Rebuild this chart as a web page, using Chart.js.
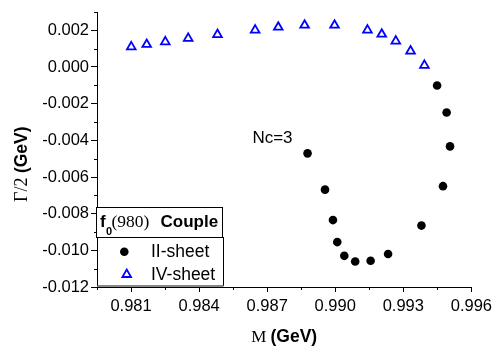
<!DOCTYPE html>
<html>
<head>
<meta charset="utf-8">
<script src="https://cdn.jsdelivr.net/npm/chart.js@4/dist/chart.umd.min.js"></script>
<style>
  html, body { margin: 0; padding: 0; background: #fff; }
  #c { display: block; background: #fff; }
</style>
</head>
<body>
<canvas id="c" width="497" height="350"></canvas>
<script>
// ---- data ----
const ivSheetM = [0.98101, 0.98169, 0.98251, 0.98352, 0.98481, 0.98647, 0.98749, 0.98865, 0.98997, 0.99142, 0.99205, 0.99267, 0.99332, 0.99393];
const ivSheetG = [0.00110, 0.00123, 0.00137, 0.00156, 0.00177, 0.00201, 0.00217, 0.00228, 0.00228, 0.00201, 0.00179, 0.00141, 0.00087, 0.00009];
const iiSheetM = [0.99449, 0.99491, 0.99506, 0.99475, 0.99380, 0.99233, 0.99156, 0.99088, 0.99040, 0.99009, 0.98990, 0.98955, 0.98878];
const iiSheetG = [-0.00101, -0.00248, -0.00433, -0.00650, -0.00865, -0.01020, -0.01057, -0.01061, -0.01030, -0.00955, -0.00835, -0.00669, -0.00471];

const xTicks = [0.981, 0.984, 0.987, 0.990, 0.993, 0.996];
const xMinorTicks = [0.9795, 0.9825, 0.9855, 0.9885, 0.9915, 0.9945];
const yTicks = [-0.012, -0.010, -0.008, -0.006, -0.004, -0.002, 0.000, 0.002];
const yMinorTicks = [-0.011, -0.009, -0.007, -0.005, -0.003, -0.001, 0.001, 0.003];

const seriesNames = ['II-sheet', 'IV-sheet'];
const legendTitle = ['f', '0', '(980)', 'Couple'];
const annotationText = 'Nc=3';

const SANS = '"Liberation Sans", Arial, sans-serif';
const SERIF = '"Liberation Serif", "Times New Roman", serif';

const toPts = (xs, ys) => xs.map((x, i) => ({x: x, y: ys[i]}));

const extras = {
  id: 'extras',
  afterDraw(chart) {
    const ctx = chart.ctx;
    const xs = chart.scales.x, ys = chart.scales.y;
    const ca = chart.chartArea;
    ctx.save();
    // minor ticks
    ctx.strokeStyle = '#000';
    ctx.lineWidth = 1;
    ctx.beginPath();
    xMinorTicks.forEach(v => {
      const px = Math.round(xs.getPixelForValue(v)) + 0.5;
      ctx.moveTo(px, ca.bottom);
      ctx.lineTo(px, ca.bottom + 3);
    });
    yMinorTicks.forEach(v => {
      const py = Math.round(ys.getPixelForValue(v)) + 0.5;
      ctx.moveTo(ca.left - 3, py);
      ctx.lineTo(ca.left, py);
    });
    ctx.stroke();

    // annotation
    ctx.fillStyle = '#000';
    ctx.textBaseline = 'alphabetic';
    ctx.textAlign = 'left';
    ctx.font = '17px ' + SANS;
    ctx.fillText(annotationText, xs.getPixelForValue(0.98635), ys.getPixelForValue(-0.00416));

    // x axis title
    const cx = (ca.left + ca.right) / 2;
    ctx.font = '17px ' + SERIF;
    const mW = ctx.measureText('M ').width;
    ctx.font = 'bold 17.5px ' + SANS;
    const gW = ctx.measureText('(GeV)').width;
    let sx = cx - (mW + gW) / 2;
    ctx.font = '17px ' + SERIF;
    ctx.fillText('M', sx, 342);
    ctx.font = 'bold 17.5px ' + SANS;
    ctx.fillText('(GeV)', sx + mW, 342);

    // y axis title
    ctx.save();
    ctx.translate(27, 202);
    ctx.rotate(-Math.PI / 2);
    ctx.font = '18px ' + SERIF;
    ctx.fillText('\u0393/2', 0, 0);
    const gw2 = ctx.measureText('\u0393/2 ').width;
    ctx.font = 'bold 17.5px ' + SANS;
    ctx.fillText('(GeV)', gw2, 0);
    ctx.restore();

    // legend
    ctx.fillStyle = '#fff';
    ctx.fillRect(96.5, 207.5, 126, 30);
    ctx.fillRect(97.5, 237.5, 126, 49);
    ctx.strokeStyle = '#000';
    ctx.lineWidth = 1;
    ctx.strokeRect(96.5, 207.5, 126, 30);
    ctx.strokeRect(97.5, 237.5, 126, 48);
    ctx.strokeStyle = '#888';
    ctx.lineWidth = 2;
    ctx.beginPath();
    ctx.moveTo(97.5, 286);
    ctx.lineTo(223.5, 286);
    ctx.stroke();

    ctx.fillStyle = '#000';
    ctx.font = 'bold 17px ' + SANS;
    ctx.fillText(legendTitle[0], 100, 227);
    ctx.font = 'bold 11px ' + SANS;
    ctx.fillText(legendTitle[1], 106, 234.5);
    ctx.font = '17.5px ' + SERIF;
    ctx.fillText(legendTitle[2], 111.5, 227);
    ctx.font = 'bold 17px ' + SANS;
    ctx.fillText(legendTitle[3], 160.5, 227);

    ctx.font = '17.5px ' + SANS;
    ctx.fillText(seriesNames[0], 151, 256.7);
    ctx.fillText(seriesNames[1], 151, 280);

    ctx.fillStyle = '#000';
    ctx.strokeStyle = '#000';
    Chart.helpers.drawPoint(ctx, {pointStyle: 'circle', radius: 4.3, rotation: 0, borderWidth: 0}, 124.3, 251.7);
    ctx.fillStyle = '#fff';
    ctx.strokeStyle = '#0000ff';
    ctx.lineWidth = 1.8;
    Chart.helpers.drawPoint(ctx, {pointStyle: 'triangle', radius: 5, rotation: 0, borderWidth: 1.8}, 126.7, 274.5);
    ctx.restore();
  }
};

new Chart(document.getElementById('c'), {
  type: 'scatter',
  data: {
    datasets: [
      {
        label: seriesNames[0],
        data: toPts(iiSheetM, iiSheetG),
        pointStyle: 'circle',
        pointRadius: 4.3,
        pointBackgroundColor: '#000',
        pointBorderColor: '#000',
        pointBorderWidth: 0,
        showLine: false
      },
      {
        label: seriesNames[1],
        data: toPts(ivSheetM, ivSheetG),
        pointStyle: 'triangle',
        pointRadius: 5,
        pointBackgroundColor: 'rgba(255,255,255,0)',
        pointBorderColor: '#0000ff',
        pointBorderWidth: 1.8,
        showLine: false
      }
    ]
  },
  options: {
    responsive: false,
    devicePixelRatio: 1,
    animation: false,
    clip: false,
    layout: { padding: { left: 0, top: 12, right: 25, bottom: 0 } },
    plugins: { legend: { display: false }, tooltip: { enabled: false } },
    scales: {
      x: {
        type: 'linear',
        position: 'bottom',
        min: 0.9795,
        max: 0.996,
        afterFit: s => { s.height = 63; },
        afterBuildTicks: s => { s.ticks = xTicks.map(v => ({value: v})); },
        grid: { drawOnChartArea: false, tickLength: 5, color: '#000' },
        border: { display: true, color: '#000', width: 1 },
        ticks: {
          color: '#000',
          padding: 5,
          maxRotation: 0,
          font: { family: SANS, size: 16.5 },
          callback: v => v.toFixed(3)
        }
      },
      y: {
        type: 'linear',
        position: 'left',
        min: -0.012,
        max: 0.003,
        afterFit: s => { s.width = 97; },
        afterBuildTicks: s => { s.ticks = yTicks.map(v => ({value: v})); },
        grid: { drawOnChartArea: false, tickLength: 6, color: '#000' },
        border: { display: true, color: '#000', width: 1 },
        ticks: {
          color: '#000',
          padding: 2,
          font: { family: SANS, size: 16.5 },
          callback: v => v.toFixed(3)
        }
      }
    }
  },
  plugins: [extras]
});
</script>
</body>
</html>
